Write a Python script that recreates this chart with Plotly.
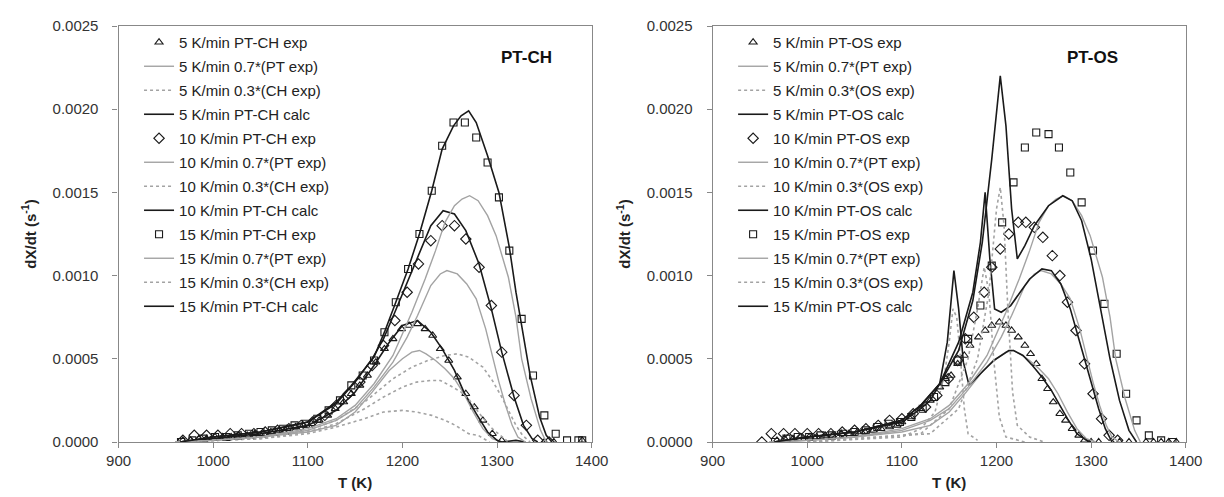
import plotly.graph_objects as go

# ---------------- shared PT data (0.7*(PT exp)) ----------------
pt5_T = [960, 1000, 1050, 1100, 1130, 1150, 1168, 1186, 1200, 1210, 1218, 1225, 1235, 1245, 1255, 1265, 1275, 1285, 1295, 1305]
pt5_v = [0.0, 0.00001, 0.00003, 0.00006, 0.0001, 0.00018, 0.0003, 0.00043, 0.0005, 0.00054, 0.00055, 0.00053, 0.00049, 0.00044, 0.00038, 0.00029, 0.00018, 0.00008, 0.00002, 0.0]
pt10_T = [960, 1000, 1050, 1100, 1130, 1150, 1170, 1190, 1205, 1216, 1230, 1240, 1247, 1258, 1268, 1278, 1288, 1295, 1302, 1309, 1316, 1322, 1330]
pt10_v = [0.0, 0.00001, 0.00003, 0.00007, 0.00013, 0.0002, 0.00033, 0.00048, 0.00063, 0.00076, 0.00094, 0.00101, 0.00103, 0.00101, 0.00095, 0.00086, 0.00068, 0.00052, 0.00036, 0.00022, 0.0001, 0.00003, 0.0]
pt15_T = [960, 1000, 1050, 1100, 1130, 1150, 1170, 1190, 1210, 1224, 1235, 1245, 1255, 1263, 1271, 1280, 1290, 1299, 1312, 1320, 1326, 1336, 1346, 1352]
pt15_v = [0.0, 0.00001, 0.00003, 0.00008, 0.00014, 0.00022, 0.00035, 0.00052, 0.00078, 0.00098, 0.00115, 0.00132, 0.00142, 0.00146, 0.00148, 0.00145, 0.00136, 0.00124, 0.00099, 0.00075, 0.0005, 0.00026, 0.00007, 0.0]

# ---------------- PT-CH ----------------
ch5_T = [960, 1000, 1050, 1100, 1130, 1160, 1180, 1200, 1215, 1231, 1245, 1256, 1270, 1280, 1292]
ch5_v = [0.0, 0.00001, 0.00002, 0.00005, 0.00009, 0.00014, 0.00018, 0.00019, 0.00018, 0.00016, 0.00013, 0.0001, 0.00005, 0.00004, 0.0]
ch10_T = [960, 1000, 1050, 1100, 1130, 1160, 1180, 1200, 1215, 1230, 1240, 1250, 1262, 1271, 1283, 1295, 1305, 1312]
ch10_v = [0.0, 0.00001, 0.00002, 0.00006, 0.00011, 0.0002, 0.00027, 0.00033, 0.00036, 0.00037, 0.00037, 0.00034, 0.0003, 0.00025, 0.00016, 0.00008, 0.00003, 0.0]
ch15_T = [960, 1000, 1050, 1100, 1130, 1160, 1190, 1210, 1227, 1245, 1258, 1270, 1285, 1295, 1305, 1313, 1320, 1327, 1335]
ch15_v = [0.0, 0.00001, 0.00003, 0.00007, 0.00013, 0.00024, 0.00038, 0.00045, 0.00049, 0.00052, 0.00053, 0.00051, 0.00045, 0.00037, 0.00027, 0.00018, 0.0001, 0.00004, 0.0]

chcalc5_T = [965, 1000, 1050, 1100, 1130, 1150, 1170, 1185, 1200, 1216, 1230, 1242, 1255, 1265, 1278, 1290, 1300, 1305, 1320, 1330]
chcalc5_v = [0.0, 0.00002, 0.00005, 0.0001, 0.00019, 0.0003, 0.00046, 0.00059, 0.0007, 0.00073, 0.00066, 0.00056, 0.00043, 0.0003, 0.00017, 0.00006, 0.00001, 0.0, 0.00001, 0.0]
chcalc10_T = [965, 1000, 1050, 1100, 1130, 1150, 1168, 1180, 1192, 1205, 1217, 1230, 1243, 1255, 1267, 1281, 1294, 1305, 1318, 1328, 1337, 1343]
chcalc10_v = [0.0, 0.00003, 0.00006, 0.00012, 0.00023, 0.00036, 0.0005, 0.00062, 0.00078, 0.00096, 0.00113, 0.0013, 0.00139, 0.00137, 0.00127, 0.00107, 0.0008, 0.00054, 0.00027, 0.0001, 0.00002, 0.0]
chcalc15_T = [965, 1000, 1050, 1100, 1130, 1146, 1170, 1181, 1193, 1206, 1218, 1231, 1242, 1254, 1262, 1270, 1278, 1290, 1302, 1313, 1320, 1326, 1335, 1345, 1352, 1358]
chcalc15_v = [0.0, 0.00003, 0.00006, 0.00012, 0.00024, 0.00034, 0.00051, 0.00066, 0.00084, 0.00104, 0.00125, 0.00151, 0.00176, 0.0019, 0.00196, 0.00199, 0.00192, 0.00172, 0.0015, 0.00117, 0.0009, 0.0007, 0.0004, 0.00015, 0.00004, 0.0]

chexp5_T = [968, 976, 985, 993, 1002, 1010, 1019, 1027, 1036, 1044, 1053, 1061, 1070, 1078, 1087, 1095, 1104, 1112, 1121, 1129, 1138, 1146, 1155, 1163, 1172, 1181, 1190, 1199, 1207, 1216, 1224, 1232, 1240, 1249, 1258, 1267, 1276, 1285, 1295, 1305, 1350, 1360, 1390]
chexp5_v = [0.00001, 0.00001, 0.00002, 0.00002, 0.00003, 0.00003, 0.00003, 0.00004, 0.00004, 0.00005, 0.00005, 0.00006, 0.00007, 0.00008, 0.00009, 0.0001, 0.00011, 0.00013, 0.00016, 0.0002, 0.00024, 0.00029, 0.00034, 0.0004, 0.00048, 0.00056, 0.00062, 0.00068, 0.0007, 0.00071, 0.00068, 0.00064, 0.00056, 0.00049, 0.00039, 0.00029, 0.00021, 0.00013, 0.00005, 0.00001, 0.0, 0.0, 0.00001]
chexp10_T = [968, 980, 993, 1005, 1018, 1030, 1043, 1055, 1068, 1080, 1093, 1105, 1118, 1130, 1143, 1155, 1168, 1180, 1192, 1205, 1217, 1230, 1242, 1255, 1267, 1281, 1294, 1305, 1318, 1331, 1343, 1355]
chexp10_v = [0.00001, 0.00004, 0.00004, 0.00004, 0.00005, 0.00005, 0.00005, 0.00006, 0.00007, 0.00008, 0.0001, 0.00012, 0.00016, 0.00022, 0.00029, 0.00036, 0.00046, 0.00058, 0.00073, 0.0009, 0.00107, 0.00121, 0.0013, 0.0013, 0.00122, 0.00105, 0.00082, 0.00054, 0.00028, 0.0001, 0.00001, 0.0]
chexp15_T = [966, 978, 990, 1002, 1014, 1026, 1038, 1050, 1062, 1074, 1086, 1098, 1110, 1122, 1134, 1146, 1158, 1170, 1181, 1193, 1206, 1218, 1231, 1242, 1254, 1266, 1278, 1290, 1302, 1313, 1326, 1338, 1350, 1362, 1374, 1386, 1390]
chexp15_v = [0.0, 0.00001, 0.00002, 0.00003, 0.00003, 0.00004, 0.00005, 0.00006, 0.00007, 0.00008, 0.0001, 0.00011, 0.00014, 0.00019, 0.00025, 0.00034, 0.0004, 0.00049, 0.00066, 0.00084, 0.00104, 0.00125, 0.00151, 0.00178, 0.00192, 0.00192, 0.00183, 0.00168, 0.00147, 0.00115, 0.00074, 0.0004, 0.00016, 0.00005, 0.00001, 0.00001, 0.00001]

# ---------------- PT-OS ----------------
os5_T = [1000, 1100, 1120, 1135, 1145, 1150, 1154, 1158, 1162, 1166, 1170, 1180]
os5_v = [0.0, 0.00003, 0.00008, 0.00018, 0.0004, 0.0006, 0.0008, 0.00075, 0.0005, 0.0002, 0.00005, 0.00001]
os10_T = [1000, 1120, 1150, 1170, 1180, 1187, 1192, 1197, 1203, 1210, 1230]
os10_v = [0.0, 0.00005, 0.0002, 0.0005, 0.0008, 0.00105, 0.0009, 0.0005, 0.00015, 0.00003, 0.0]
os15_T = [1000, 1130, 1160, 1180, 1192, 1200, 1204, 1208, 1212, 1217, 1222, 1235, 1250]
os15_v = [0.0, 0.00005, 0.0002, 0.0005, 0.0009, 0.0014, 0.00153, 0.0013, 0.0008, 0.0003, 0.0001, 0.00003, 0.0]

oscalc5_T = [965, 1000, 1050, 1100, 1120, 1130, 1140, 1148, 1155, 1160, 1165, 1171, 1183, 1197, 1213, 1218, 1228, 1238, 1248, 1258, 1265, 1275, 1285, 1295, 1300]
oscalc5_v = [0.0, 0.00003, 0.00006, 0.00012, 0.0002, 0.00025, 0.00035, 0.0006, 0.00103, 0.0008, 0.00048, 0.00034, 0.00041, 0.00049, 0.00055, 0.00055, 0.00052, 0.00046, 0.00039, 0.00031, 0.00024, 0.00014, 0.00005, 0.00001, 0.0]
oscalc10_T = [965, 1000, 1050, 1100, 1120, 1140, 1160, 1175, 1183, 1188, 1193, 1198, 1205, 1215, 1225, 1235, 1248, 1258, 1268, 1278, 1288, 1298, 1308, 1315, 1322]
oscalc10_v = [0.0, 0.00003, 0.00006, 0.00013, 0.00022, 0.00035, 0.0006, 0.0009, 0.0012, 0.0015, 0.0011, 0.0008, 0.00078, 0.00082, 0.0009, 0.00098, 0.00104, 0.00103, 0.00095, 0.0008, 0.0006, 0.0004, 0.0002, 0.00008, 0.0]
oscalc15_T = [965, 1000, 1050, 1100, 1120, 1140, 1160, 1175, 1185, 1195, 1204, 1210, 1216, 1222, 1230, 1240, 1255, 1270, 1280, 1290, 1300, 1310, 1320, 1330, 1340, 1348]
oscalc15_v = [0.0, 0.00003, 0.00006, 0.00013, 0.00022, 0.00035, 0.00055, 0.00085, 0.0012, 0.0017, 0.0022, 0.0019, 0.0014, 0.0011, 0.00118, 0.0013, 0.00142, 0.00148, 0.00145, 0.00133, 0.0011, 0.0008, 0.0005, 0.00025, 0.00007, 0.0]

osexp5_T = [968, 976, 985, 993, 1002, 1010, 1019, 1027, 1036, 1044, 1053, 1061, 1070, 1078, 1087, 1095, 1100, 1110, 1120, 1130, 1140, 1146, 1152, 1159, 1166, 1172, 1181, 1188, 1195, 1203, 1210, 1216, 1223, 1230, 1236, 1242, 1248, 1254, 1260, 1267, 1273, 1280, 1287, 1293, 1300, 1308, 1330, 1340, 1358, 1366, 1374, 1382, 1390]
osexp5_v = [0.00001, 0.00002, 0.00002, 0.00003, 0.00003, 0.00003, 0.00004, 0.00004, 0.00005, 0.00005, 0.00006, 0.00006, 0.00007, 0.00008, 0.00009, 0.0001, 0.00012, 0.00015, 0.0002, 0.00025, 0.00033, 0.00038, 0.0004, 0.00047, 0.00052, 0.00058, 0.00063, 0.00067, 0.0007, 0.00072, 0.0007, 0.00067, 0.00063, 0.00058, 0.00053, 0.00047, 0.00038, 0.00032, 0.00024, 0.00017, 0.00013, 0.00008, 0.00004, 0.00001, 0.0, 0.0, 0.0, 0.0, 0.0, 0.0, 0.0, 0.0, 0.0]
osexp10_T = [952, 962, 975, 987, 1000, 1012, 1025, 1037, 1050, 1062, 1075, 1087, 1100, 1112, 1125, 1137, 1149, 1159, 1167, 1176, 1187, 1195, 1204, 1213, 1223, 1231, 1240, 1249, 1259, 1267, 1275, 1284, 1293, 1302, 1311, 1319, 1328]
osexp10_v = [0.0, 0.00005, 0.00005, 0.00005, 0.00005, 0.00005, 0.00005, 0.00006, 0.00007, 0.00008, 0.0001, 0.00013, 0.00014, 0.00017, 0.00021, 0.00028, 0.00038, 0.00049, 0.00062, 0.00075, 0.0009, 0.00105, 0.00116, 0.00125, 0.00132, 0.00132, 0.00129, 0.00123, 0.00112, 0.001, 0.00084, 0.00067, 0.00047, 0.00029, 0.00014, 0.00004, 0.00001]
osexp15_T = [966, 978, 990, 1002, 1014, 1026, 1038, 1050, 1062, 1074, 1086, 1098, 1110, 1122, 1134, 1146, 1159, 1170, 1183, 1195, 1206, 1218, 1230, 1242, 1255, 1266, 1278, 1290, 1302, 1314, 1327, 1337, 1348, 1361, 1374, 1386]
osexp15_v = [0.0, 0.00002, 0.00003, 0.00003, 0.00004, 0.00004, 0.00005, 0.00006, 0.00007, 0.00009, 0.00011, 0.00012, 0.00015, 0.0002, 0.00027, 0.00036, 0.00049, 0.00062, 0.00082, 0.00106, 0.00132, 0.00156, 0.00177, 0.00186, 0.00185, 0.00177, 0.00162, 0.00144, 0.00115, 0.00083, 0.00053, 0.00029, 0.00013, 0.00004, 0.00001, 0.0]

x_ticks = [900, 1000, 1100, 1200, 1300, 1400]
y_ticks = [0.0, 0.0005, 0.0010, 0.0015, 0.0020, 0.0025]

GRAY = "#a3a3a3"
BLACK = "#1a1a1a"
FONT = "Liberation Sans, Arial, sans-serif"

fig = go.Figure()


def add_panel(xa, ya, leg, tag, exps, pts, others, calcs):
    symbols = ["triangle-up-open", "diamond-open", "square-open"]
    msizes = [7, 8, 7]
    rates = ["5", "10", "15"]
    for i in range(3):
        r = rates[i]
        (eT, ev), (pT, pv), (oT, ov), (cT, cv) = exps[i], pts[i], others[i], calcs[i]
        fig.add_trace(go.Scatter(x=eT, y=ev, mode="markers", xaxis=xa, yaxis=ya, legend=leg,
                                 legendgroup=f"{leg}{r}e", name=f"{r} K/min PT-{tag} exp",
                                 marker=dict(symbol=symbols[i], size=msizes[i], color=BLACK,
                                             line=dict(width=1.1, color=BLACK))))
        fig.add_trace(go.Scatter(x=pT, y=pv, mode="lines", xaxis=xa, yaxis=ya, legend=leg,
                                 legendgroup=f"{leg}{r}p", name=f"{r} K/min 0.7*(PT exp)",
                                 line=dict(color=GRAY, width=1.4)))
        fig.add_trace(go.Scatter(x=oT, y=ov, mode="lines", xaxis=xa, yaxis=ya, legend=leg,
                                 legendgroup=f"{leg}{r}o", name=f"{r} K/min 0.3*({tag} exp)",
                                 line=dict(color=GRAY, width=1.6, dash="dot")))
        fig.add_trace(go.Scatter(x=cT, y=cv, mode="lines", xaxis=xa, yaxis=ya, legend=leg,
                                 legendgroup=f"{leg}{r}c", name=f"{r} K/min PT-{tag} calc",
                                 line=dict(color=BLACK, width=1.6)))


pts = [(pt5_T, pt5_v), (pt10_T, pt10_v), (pt15_T, pt15_v)]
add_panel("x", "y", "legend", "CH",
          [(chexp5_T, chexp5_v), (chexp10_T, chexp10_v), (chexp15_T, chexp15_v)], pts,
          [(ch5_T, ch5_v), (ch10_T, ch10_v), (ch15_T, ch15_v)],
          [(chcalc5_T, chcalc5_v), (chcalc10_T, chcalc10_v), (chcalc15_T, chcalc15_v)])
add_panel("x2", "y2", "legend2", "OS",
          [(osexp5_T, osexp5_v), (osexp10_T, osexp10_v), (osexp15_T, osexp15_v)], pts,
          [(os5_T, os5_v), (os10_T, os10_v), (os15_T, os15_v)],
          [(oscalc5_T, oscalc5_v), (oscalc10_T, oscalc10_v), (oscalc15_T, oscalc15_v)])

W, H = 1224, 497
L1, R1 = 100, 585
L2, R2 = 709, 1194

xcommon = dict(range=[900, 1400], tickvals=x_ticks, ticks="outside", ticklen=5, tickcolor="#888",
               showline=True, linecolor="#888", linewidth=1.2, mirror=True, showgrid=False, zeroline=False,
               tickfont=dict(family=FONT, size=15, color="#333"),
               title=dict(text="<b>T (K)</b>", font=dict(family=FONT, size=15, color="#222"), standoff=9))
ycommon = dict(range=[0, 0.0025], tickvals=y_ticks, tickformat=".4f", ticks="outside", ticklen=5, tickcolor="#888",
               showline=True, linecolor="#888", linewidth=1.2, mirror=True, showgrid=False, zeroline=False,
               ticklabelstandoff=11,
               tickfont=dict(family=FONT, size=15, color="#333"),
               title=dict(text="<b>dX/dt (s<sup>-1</sup>)</b>", font=dict(family=FONT, size=15, color="#222"), standoff=12))

legcommon = dict(font=dict(family=FONT, size=15, color="#222"), bgcolor="rgba(0,0,0,0)",
                 tracegroupgap=1.5, itemwidth=30, yanchor="top", xanchor="left", y=1.0, maxheight=430)

fig.update_layout(
    width=W, height=H,
    margin=dict(l=0, r=0, t=18, b=63),
    paper_bgcolor="white", plot_bgcolor="white",
    xaxis=dict(domain=[L1 / W, R1 / W], anchor="y", **xcommon),
    yaxis=dict(domain=[0, 1], anchor="x", **ycommon),
    xaxis2=dict(domain=[L2 / W, R2 / W], anchor="y2", **xcommon),
    yaxis2=dict(domain=[0, 1], anchor="x2", **ycommon),
    legend=dict(x=121 / W, **legcommon),
    legend2=dict(x=730 / W, **legcommon),
    annotations=[
        dict(text="<b>PT-CH</b>", x=518 / W, y=0.951, xref="paper", yref="paper", showarrow=False,
             font=dict(family=FONT, size=17, color="#111")),
        dict(text="<b>PT-OS</b>", x=1127 / W, y=0.951, xref="paper", yref="paper", showarrow=False,
             font=dict(family=FONT, size=17, color="#111")),
    ],
)

fig.write_html("out.html")
